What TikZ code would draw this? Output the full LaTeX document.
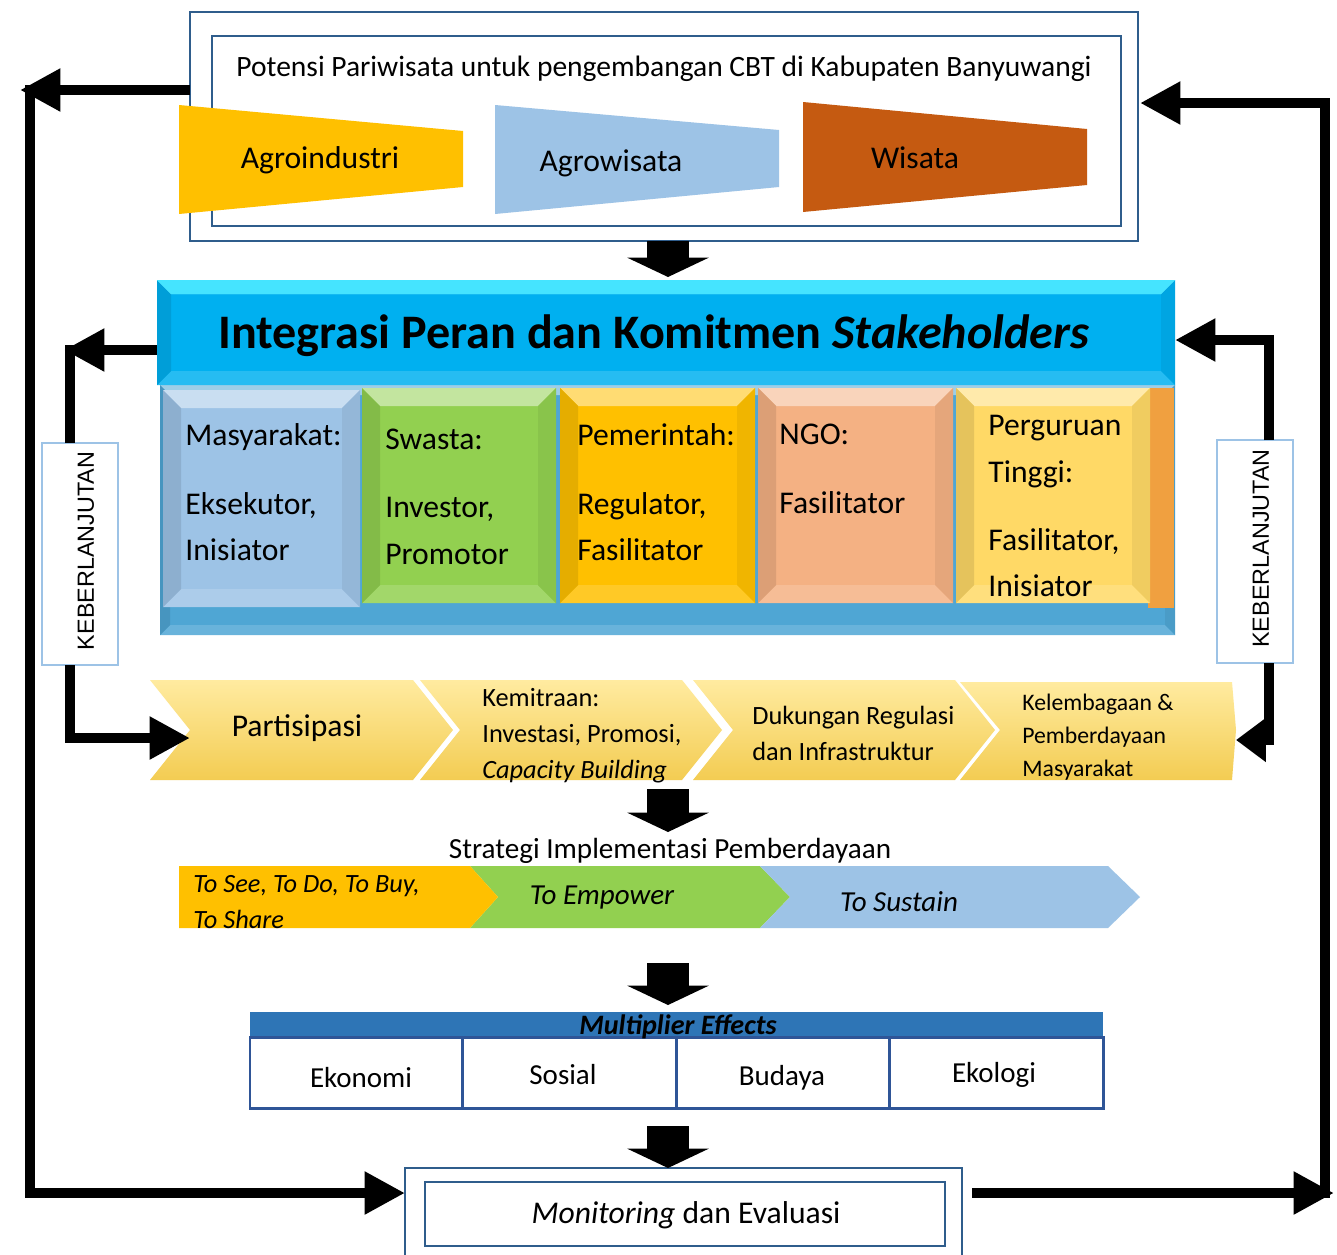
\documentclass[tikz,border=0pt]{standalone}
\usepackage{fontspec}
\setmainfont{Carlito}
\newfontfamily\kebfont{Liberation Sans}
\usetikzlibrary{arrows.meta,fit,calc}

\definecolor{frameblue}{HTML}{2F5D8C}
\definecolor{agro}{HTML}{FFC000}
\definecolor{lblue}{HTML}{9DC3E6}
\definecolor{rust}{HTML}{C55A11}
\definecolor{cyanbar}{HTML}{00B0F0}
\definecolor{hdrtop}{HTML}{45E4FF}
\definecolor{lgreen}{HTML}{92D050}
\definecolor{peach}{HTML}{F4B183}
\definecolor{lyellow}{HTML}{FFD966}
\definecolor{chevtop}{HTML}{FFEBA0}
\definecolor{chevbot}{HTML}{F3CC52}
\definecolor{mblue}{HTML}{2E75B6}
\definecolor{cellborder}{HTML}{2F5597}
\definecolor{barblue}{HTML}{4FA6D4}
\definecolor{orstrip}{HTML}{F0A040}
\definecolor{kebborder}{HTML}{9DC3E6}

\newcommand{\bevbox}[6]{%
  \fill[#5] (#1,#2) rectangle (#3,#4);
  \fill[#5!55!white] (#1,#2) -- (#3,#2) -- ({#3-#6},{#2+#6}) -- ({#1+#6},{#2+#6}) -- cycle;
  \fill[#5!85!white] (#1,#4) -- (#3,#4) -- ({#3-#6},{#4-#6}) -- ({#1+#6},{#4-#6}) -- cycle;
  \fill[#5!90!black] (#1,#2) -- ({#1+#6},{#2+#6}) -- ({#1+#6},{#4-#6}) -- (#1,#4) -- cycle;
  \fill[#5!94!black] (#3,#2) -- ({#3-#6},{#2+#6}) -- ({#3-#6},{#4-#6}) -- (#3,#4) -- cycle;
}

\tikzset{
  frame/.style={draw=frameblue, line width=1.6pt, inner sep=0pt},
  flow/.style={line width=6.2pt, line cap=butt, line join=miter},
  bigtip/.tip={Triangle[length=23pt,width=23pt]},
  smalltip/.tip={Triangle[length=17pt,width=24pt]},
  blockarrow/.style={line width=23.8pt, -{Triangle[length=11pt,width=46pt]}},
  titlefont/.style={font=\fontsize{16.8}{20}\selectfont, inner sep=0pt},
  trapfont/.style={font=\fontsize{18}{22}\selectfont, inner sep=0pt},
  hdrfont/.style={font=\bfseries\fontsize{27.4}{32}\selectfont, inner sep=0pt},
  stakefont/.style={font=\fontsize{18}{26.6}\selectfont, inner sep=0pt, anchor=north west, align=left},
  chevfont/.style={font=\fontsize{15}{20.4}\selectfont, inner sep=0pt, anchor=north west, align=left},
  kelfont/.style={font=\fontsize{13.5}{18.7}\selectfont, inner sep=0pt, anchor=north west, align=left},
  cellfont/.style={font=\fontsize{16.5}{20}\selectfont, inner sep=0pt},
  stratfont/.style={font=\itshape\fontsize{16.5}{20}\selectfont, inner sep=0pt},
  kebbox/.style={draw=kebborder, line width=1.6pt, fill=white, inner sep=0pt},
  kebtext/.style={font=\kebfont\fontsize{13.3}{16}\selectfont, inner sep=0pt, rotate=90},
  cell/.style={draw=cellborder, line width=1.7pt, fill=white, inner sep=0pt},
  chev/.style={top color=chevtop, bottom color=chevbot}
}

\begin{document}
\begin{tikzpicture}[x=0.02cm,y=-0.02cm]
\fill[white] (0,0) rectangle (1337,1254);
\useasboundingbox (0,0) rectangle (1337,1254);

% ---------- top box ----------
\node[frame, fit={(190,12)(1138,241)}] (topbox) {};
\node[frame, fit={(212,36)(1121,226)}] (innerbox) {};
\node[titlefont] (title) at (664,69) {Potensi Pariwisata untuk pengembangan CBT di Kabupaten Banyuwangi};
\fill[agro] (179,105) -- (463,131) -- (463,187) -- (179,214) -- cycle;
\fill[lblue] (495,105) -- (779,130) -- (779,187) -- (495,214) -- cycle;
\fill[rust] (803,102) -- (1087,129) -- (1087,185) -- (803,212) -- cycle;
\node[trapfont] (agroind) at (320,160) {Agroindustri};
\node[trapfont] (agrowis) at (611,163) {Agrowisata};
\node[trapfont] (wisata) at (915,158) {Wisata};

% ---------- stakeholders ----------
\bevbox{160}{385}{1175}{635}{barblue}{10}
\bevbox{157}{280}{1175}{385}{cyanbar}{14}
\fill[hdrtop] (157,280) -- (1175,280) -- (1161,294) -- (171,294) -- cycle;
\node[fit={(157,280)(1175,385)}, inner sep=0pt] (header) {};
\node[hdrfont] (hdrtext) at (654,336) {Integrasi Peran dan Komitmen \textit{Stakeholders}};

\fill[orstrip] (1148,388) rectangle (1174,608);
\bevbox{163}{390}{360}{607}{lblue}{18}
\bevbox{362}{388}{556}{603}{lgreen}{18}
\bevbox{560}{388}{755}{603}{agro}{18}
\bevbox{758}{388}{953}{603}{peach}{18}
\bevbox{956}{388}{1150}{603}{lyellow}{18}
\node[stakefont] (masy) at (185,423) {Masyarakat:\\[12.5pt]Eksekutor,\\Inisiator};
\node[stakefont] (swasta) at (385,429) {Swasta:\\[12pt]Investor,\\Promotor};
\node[stakefont] (pemer) at (577,423) {Pemerintah:\\[12.5pt]Regulator,\\Fasilitator};
\node[stakefont] (ngo) at (779,424) {NGO:\\[12.5pt]Fasilitator};
\node[stakefont] (pt) at (988,415) {Perguruan\\Tinggi:\\[12pt]Fasilitator,\\Inisiator};

% ---------- keberlanjutan ----------
\node[kebbox, fit={(42,443)(118,665)}] (kebL) {};
\node[kebtext] (kebLt) at ($(kebL.center)+(6,-3)$) {KEBERLANJUTAN};
\node[kebbox, fit={(1217,440)(1293,663)}] (kebR) {};
\node[kebtext] (kebRt) at ($(kebR.center)+(6,-3)$) {KEBERLANJUTAN};

% ---------- chevrons ----------
\shade[chev] (150,680) -- (413,680) -- (453,730) -- (413,780) -- (150,780) -- (190,730) -- cycle;
\shade[chev] (420,680) -- (682,680) -- (722,730) -- (682,780) -- (420,780) -- (460,730) -- cycle;
\shade[chev] (693,680) -- (955,680) -- (995,730) -- (955,780) -- (693,780) -- (733,730) -- cycle;
\shade[chev] (960,682) -- (1232,682) -- (1236,730) -- (1232,780) -- (960,780) -- (1000,730) -- cycle;
\node[font=\fontsize{18}{22}\selectfont, inner sep=0pt] (partis) at (297,728) {Partisipasi};
\node[chevfont] (kemit) at (482,688) {Kemitraan:\\Investasi, Promosi,\\\textit{Capacity Building}};
\node[chevfont] (dukung) at (752,706) {Dukungan Regulasi\\dan Infrastruktur};
\node[kelfont] (kelem) at (1022,694) {Kelembagaan \&\\Pemberdayaan\\Masyarakat};

% ---------- strategy ----------
\node[font=\fontsize{16.6}{20}\selectfont, inner sep=0pt] (strat) at (670,851) {Strategi Implementasi Pemberdayaan};
\fill[lgreen] (470,866) -- (760,866) -- (790,897) -- (760,928) -- (470,928) -- (498,897) -- cycle;
\fill[lblue] (760,866) -- (1108,866) -- (1140,897) -- (1108,928) -- (760,928) -- (790,897) -- cycle;
\fill[agro] (179,866) -- (470,866) -- (498,897) -- (470,928) -- (179,928) -- cycle;
\node[font=\itshape\fontsize{15}{20.4}\selectfont, inner sep=0pt, anchor=north west, align=left] (tosee) at (193,875) {To See, To Do, To Buy,\\To Share};
\node[stratfont] (empower) at (602,898) {To Empower};
\node[stratfont] (sustain) at (899,902) {To Sustain};

% ---------- multiplier ----------
\fill[mblue] (250,1012) rectangle (1103,1037);
\node[cell, fit={(250,1037)(462,1108)}] (c1) {};
\node[cell, fit={(462,1037)(676,1108)}] (c2) {};
\node[cell, fit={(676,1037)(889,1108)}] (c3) {};
\node[cell, fit={(889,1037)(1103,1108)}] (c4) {};
\node[font=\bfseries\itshape\fontsize{16}{20}\selectfont, inner sep=0pt] (mult) at (678,1027) {Multiplier Effects};
\node[cellfont] (eko) at (361,1078) {Ekonomi};
\node[cellfont] (sos) at (563,1075) {Sosial};
\node[cellfont] (bud) at (782,1078) {Budaya};
\node[cellfont] (ekl) at (994,1075) {Ekologi};

% ---------- monitoring ----------
\draw[draw=frameblue, line width=1.4pt] (405,1260) -- (405,1168) -- (962,1168) -- (962,1260);
\node[inner sep=0pt, fit={(405,1168)(962,1254)}] (moni) {};
\node[frame, fit={(425,1182)(945,1246)}] (moniin) {};
\node[font=\fontsize{18}{22}\selectfont, inner sep=0pt] (monitext) at (686,1215) {\textit{Monitoring} dan Evaluasi};

% ---------- block arrows ----------
\coordinate (a1s) at (668,241); \coordinate (a1e) at (668,277);
\coordinate (a2s) at (668,789); \coordinate (a2e) at (668,832);
\coordinate (a3s) at (668,963); \coordinate (a3e) at (668,1005);
\coordinate (a4s) at (668,1126); \coordinate (a4e) at (668,1168);
\draw[blockarrow] (a1s) -- (a1e);
\draw[blockarrow] (a2s) -- (a2e);
\draw[blockarrow] (a3s) -- (a3e);
\draw[blockarrow] (a4s) -- (a4e);

% ---------- inner loops ----------
\coordinate (hdrL) at (157,350); \coordinate (cornL) at (64,350);
\coordinate (lineLtop) at (70,345); \coordinate (kebLtop) at (70,443);
\coordinate (kebLbot) at (70,665); \coordinate (partIn) at (190,738);
\draw[flow,-{bigtip}] (hdrL) -- (cornL);
\draw[flow] (kebLtop) -- (lineLtop);
\draw[flow,-{bigtip}] (kebLbot) |- (partIn);

\coordinate (kebRtop) at (1269,440); \coordinate (hdrR) at (1175,340);
\coordinate (kebRbot) at (1269,663); \coordinate (kelIn) at (1236,740);
\draw[flow,-{bigtip}] (kebRtop) |- (hdrR);
\draw[flow,-{smalltip}] (kebRbot) |- (kelIn);

% ---------- outer loops ----------
\coordinate (tbL) at (190,90); \coordinate (oL) at (20,90);
\coordinate (oLtop) at (30,85); \coordinate (moL) at (405,1193);
\draw[flow,-{bigtip}] (tbL) -- (oL);
\draw[flow,-{bigtip}] (oLtop) |- (moL);
\coordinate (moR) at (972,1193); \coordinate (oR) at (1334,1193);
\coordinate (oRbot) at (1325,1198); \coordinate (tbR) at (1140,103);
\draw[flow,-{bigtip}] (moR) -- (oR);
\draw[flow,-{bigtip}] (oRbot) |- (tbR);
\end{tikzpicture}
\end{document}
